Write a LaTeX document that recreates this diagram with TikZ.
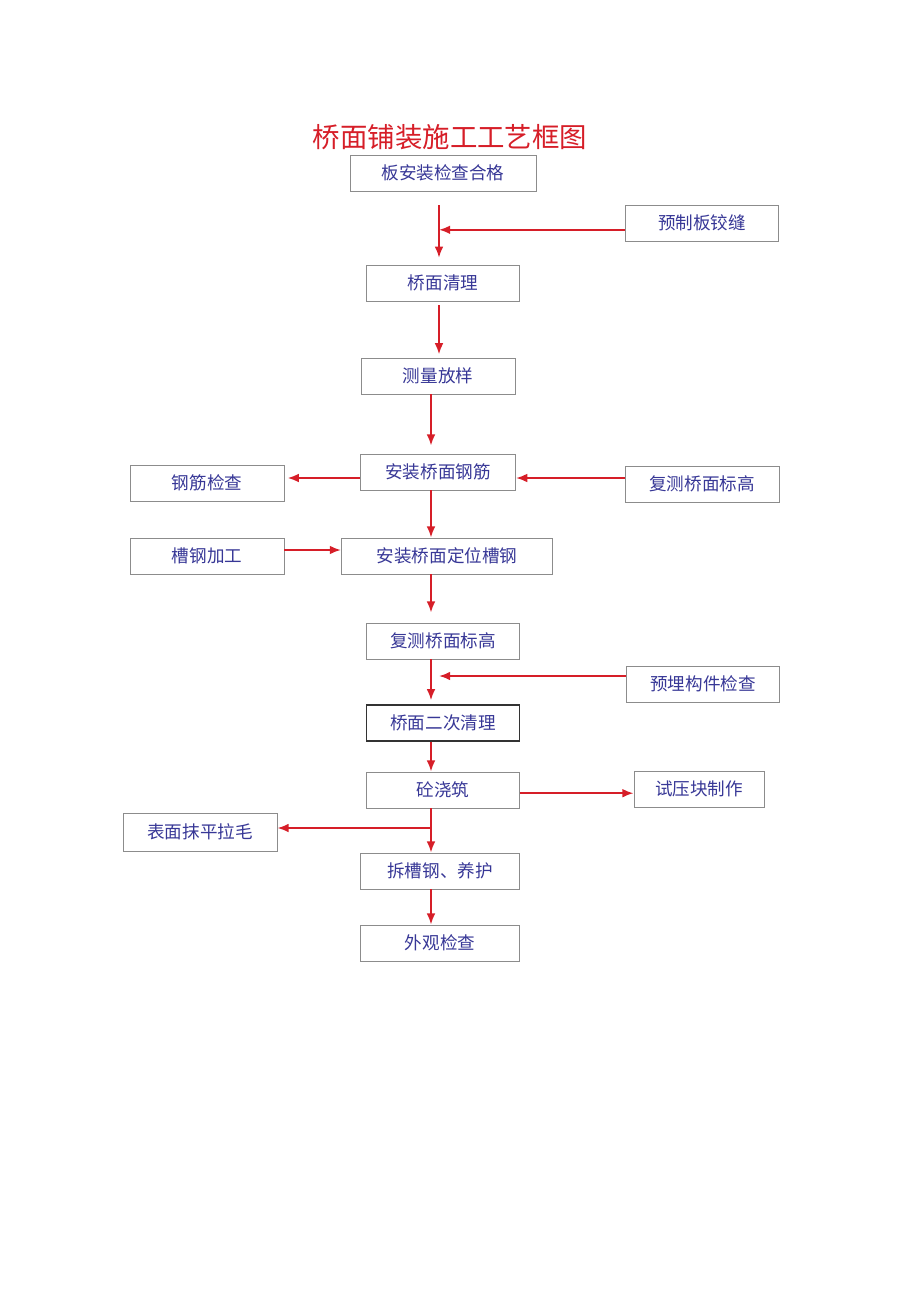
\documentclass[tikz,border=0pt]{standalone}
\usepackage{fontspec}
\newfontfamily\cjk{Noto Sans CJK SC}
\usetikzlibrary{arrows.meta}
\definecolor{flowred}{RGB}{214,30,40}
\definecolor{boxtext}{RGB}{55,55,150}
\definecolor{boxline}{RGB}{140,140,140}

\begin{document}
\begin{tikzpicture}[x=0.025cm, y=-0.025cm,
        box/.style={draw=boxline, line width=0.6pt, rectangle, minimum height=0.9cm, inner sep=0pt,
          text=boxtext, font=\cjk\fontsize{12.5}{14}\selectfont},
        flow/.style={draw=flowred, line width=1.4pt, -{Latex[length=2.8mm,width=2.2mm]}}
      ]
    \useasboundingbox (0,0) rectangle (920,1301);

    \node[text=flowred, font=\cjk\fontsize{19.5}{22}\selectfont] (title) at (450,137) {桥面铺装施工工艺框图};

    % main column
    \node[box, minimum width=4.65cm] (b1) at (443,173) {板安装检查合格};
    \node[box, minimum width=3.83cm] (b2) at (443,283) {桥面清理};
    \node[box, minimum width=3.85cm] (b3) at (438,376) {测量放样};
    \node[box, minimum width=3.88cm] (b4) at (438,472) {安装桥面钢筋};
    \node[box, minimum width=5.28cm] (b5) at (447,556) {安装桥面定位槽钢};
    \node[box, minimum width=3.83cm] (b6) at (443,641) {复测桥面标高};
    \node[box, minimum width=3.83cm, draw=black!80, line width=1pt] (b7) at (443,723) {桥面二次清理};
    \node[box, minimum width=3.83cm] (b8) at (443,790) {砼浇筑};
    \node[box, minimum width=3.98cm] (b9) at (440,871) {拆槽钢、养护};
    \node[box, minimum width=3.98cm] (b10) at (440,943) {外观检查};

    % side boxes
    \node[box, minimum width=3.83cm] (yzb) at (702,223) {预制板铰缝};
    \node[box, minimum width=3.85cm] (gjjc) at (207,483) {钢筋检查};
    \node[box, minimum width=3.85cm] (fcbg) at (702,484) {复测桥面标高};
    \node[box, minimum width=3.85cm] (cgjg) at (207,556) {槽钢加工};
    \node[box, minimum width=3.83cm] (ymgj) at (703,684) {预埋构件检查};
    \node[box, minimum width=3.25cm] (sykz) at (699,789) {试压块制作};
    \node[box, minimum width=3.85cm, minimum height=0.95cm] (bmmp) at (200,832) {表面抹平拉毛};

    \coordinate (col1) at (439,0);
    \coordinate (col2) at (431,0);
    \coordinate (br) at (431,828);

    \draw[flow, shorten <=3.5mm, shorten >=1.7mm] (b1.south -| col1) -- (b2.north -| col1);
    \draw[flow, shorten <=1mm, shorten >=0.8mm] (b2.south -| col1) -- (b3.north -| col1);
    \draw[flow, shorten >=2mm] (b3.south -| col2) -- (b4.north -| col2);
    \draw[flow] (b4.south -| col2) -- (b5.north -| col2);
    \draw[flow, shorten >=2.5mm] (b5.south -| col2) -- (b6.north -| col2);
    \draw[flow, shorten >=1mm] (b6.south -| col2) -- (b7.north -| col2);
    \draw[flow] (b7.south -| col2) -- (b8.north -| col2);
    \draw[flow] (b8.south -| col2) -- (b9.north -| col2);
    \draw[flow] (b9.south -| col2) -- (b10.north -| col2);

    \draw[flow] ([yshift=-1.7mm]yzb.west) -- ([yshift=-1.7mm]yzb.west -| col1);
    \draw[flow, shorten >=0.8mm] ([yshift=-1.5mm]b4.west) -- ([yshift=-1.5mm]b4.west -| gjjc.east);
    \draw[flow] ([yshift=-1.5mm]b4.east -| fcbg.west) -- ([yshift=-1.5mm]b4.east);
    \draw[flow] ([yshift=1.5mm]cgjg.east) -- ([yshift=1.5mm]cgjg.east -| b5.west);
    \draw[flow] ([yshift=2mm]ymgj.west) -- ([yshift=2mm]ymgj.west -| col1);
    \draw[flow] ([yshift=-0.8mm]b8.east) -- ([yshift=-0.8mm]b8.east -| sykz.west);
    \draw[flow] (br) -- (br -| bmmp.east);

\end{tikzpicture}
\end{document}
